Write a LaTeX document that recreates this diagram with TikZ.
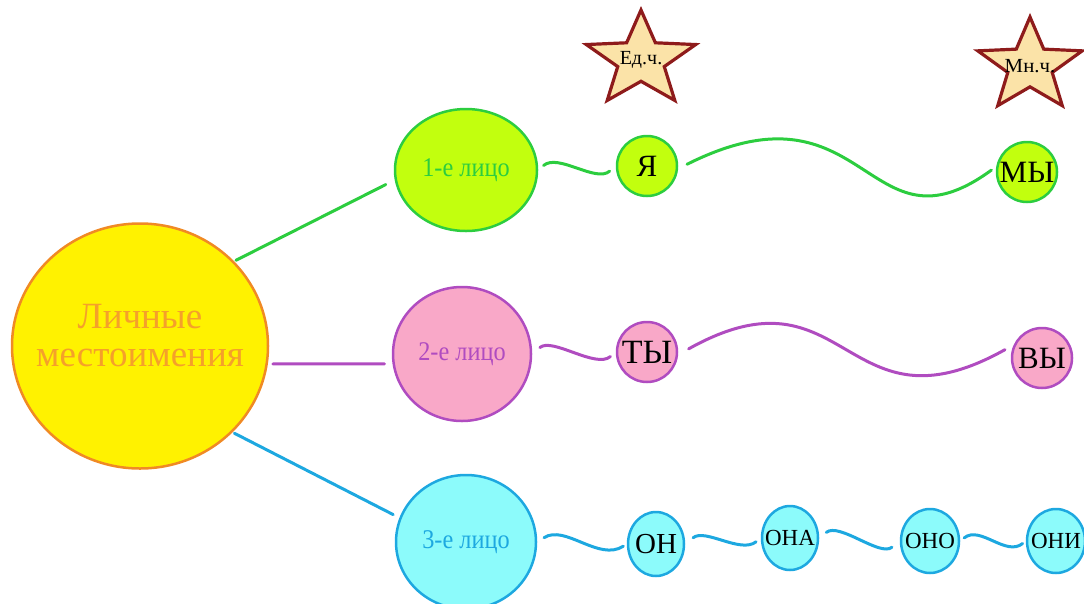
\documentclass[tikz,border=0pt]{standalone}
\usepackage{fontspec}
\setmainfont{Liberation Serif}
\newfontfamily\narrowfont[FakeStretch=0.9]{Liberation Serif}
\usetikzlibrary{shapes.geometric}
\definecolor{sunfill}{HTML}{FFF200}
\definecolor{sunline}{HTML}{F08A24}
\definecolor{suntext}{HTML}{F5A02A}
\definecolor{limefill}{HTML}{C2FF0E}
\definecolor{greenline}{HTML}{2CCD3F}
\definecolor{pinkfill}{HTML}{F9A8C8}
\definecolor{purpleline}{HTML}{B04CC0}
\definecolor{cyanfill}{HTML}{8CFBFB}
\definecolor{blueline}{HTML}{1DA8E0}
\definecolor{starfill}{HTML}{FBE3A8}
\definecolor{starline}{HTML}{8E1B1B}

\begin{document}
\begin{tikzpicture}[x=1pt,y=-1pt,
  bubble/.style={ellipse, line width=2.5pt, inner sep=0pt},
  person/.style={bubble, font=\narrowfont\fontsize{27}{27}\selectfont},
  word/.style={bubble, minimum width=60pt, minimum height=60pt, font=\fontsize{31}{31}\selectfont},
  link/.style={line width=3pt, line cap=round},
  starbox/.style={star, star points=5, star point ratio=2.35, draw=starline, fill=starfill,
    line width=3.2pt, inner sep=0pt, transform shape, font=\fontsize{20}{20}\selectfont}]
\useasboundingbox (0,0) rectangle (1084,603);

% main circle
\node[bubble, fill=sunfill, draw=sunline, text=suntext, minimum width=256pt, minimum height=245pt,
  font=\fontsize{37}{38}\selectfont] (main) at (140,346)
  {\smash{\makebox[0pt]{\begin{tabular}[c]{@{}c@{}}Личные\\местоимения\end{tabular}}}};

% persons
\node[person, fill=limefill, draw=greenline, text=greenline, minimum width=142pt, minimum height=122pt]
  (first) at (466,170) {1-е лицо};
\node[person, fill=pinkfill, draw=purpleline, text=purpleline, minimum width=138pt, minimum height=134pt]
  (second) at (462,354) {2-е лицо};
\node[person, fill=cyanfill, draw=blueline, text=blueline, minimum width=140pt, minimum height=134pt]
  (third) at (466,542) {3-е лицо};

% stars
\begin{scope}[shift={(641,60)}, xscale=1.15]
\node[starbox, minimum size=100pt] (sing) at (0,0) {\makebox[0pt]{\scalebox{0.87}[1]{Ед.ч.}}};
\end{scope}
\begin{scope}[shift={(1030,66)}, xscale=1.12]
\node[starbox, minimum size=98pt] (plur) at (0,0) {\makebox[0pt]{\scalebox{0.93}[1]{Мн.ч.}}};
\end{scope}

% words
\node[word, fill=limefill, draw=greenline] (ya) at (647,166) {Я};
\node[word, fill=limefill, draw=greenline] (my) at (1027,172) {\makebox[0pt]{МЫ}};
\node[word, fill=pinkfill, draw=purpleline] (ty) at (647,352) {\makebox[0pt]{\fontsize{34}{34}\selectfont ТЫ}};
\node[word, fill=pinkfill, draw=purpleline] (vy) at (1042,358) {\makebox[0pt]{ВЫ}};
\node[word, fill=cyanfill, draw=blueline, minimum width=56pt, minimum height=64pt,
  font=\fontsize{29}{29}\selectfont] (on) at (656,544) {\makebox[0pt]{ОН}};
\node[word, fill=cyanfill, draw=blueline, minimum width=56pt, minimum height=64pt,
  font=\fontsize{23}{23}\selectfont] (ona) at (790,538) {\makebox[0pt]{ОНА}};
\node[word, fill=cyanfill, draw=blueline, minimum width=58pt, minimum height=64pt,
  font=\fontsize{23}{23}\selectfont] (ono) at (930,541) {\makebox[0pt]{ОНО}};
\node[word, fill=cyanfill, draw=blueline, minimum width=58pt, minimum height=64pt,
  font=\fontsize{23}{23}\selectfont] (oni) at (1056,541) {\makebox[0pt]{ОНИ}};

% links from main
\draw[link, greenline, shorten <=2pt, shorten >=10pt] (main.42) -- (first.188);
\draw[link, purpleline, shorten <=5pt, shorten >=8pt] (main.-8) -- (second.188);
\draw[link, blueline, shorten <=2pt, shorten >=7pt] (main.-43) -- (third.160);

% waves
\draw[link, greenline, shorten <=7pt, shorten >=8pt] (first.east) .. controls +(20,-17) and +(-20,17) .. (ya.west);
\draw[link, greenline, shorten <=10pt, shorten >=6pt] (ya.-5) .. controls +(190,-95) and +(-130,95) .. (my.170);
\draw[link, purpleline, shorten <=10pt, shorten >=7pt] (second.east) .. controls +(20,-17) and +(-20,17) .. (ty.west);
\draw[link, purpleline, shorten <=12pt, shorten >=10pt] (ty.-5) .. controls +(170,-95) and +(-170,95) .. (vy.155);
\draw[link, blueline, shorten <=8pt, shorten >=4pt] (third.east) .. controls +(28,-18) and +(-28,18) .. (on.west);
\draw[link, blueline, shorten <=10pt, shorten >=6pt] (on.east) .. controls +(20,-16) and +(-20,16) .. (ona.west);
\draw[link, blueline, shorten <=9pt, shorten >=10pt] (ona.east) .. controls +(20,-16) and +(-20,16) .. (ono.west);
\draw[link, blueline, shorten <=5pt, shorten >=4pt] (ono.east) .. controls +(20,-16) and +(-20,16) .. (oni.west);
\end{tikzpicture}
\end{document}
